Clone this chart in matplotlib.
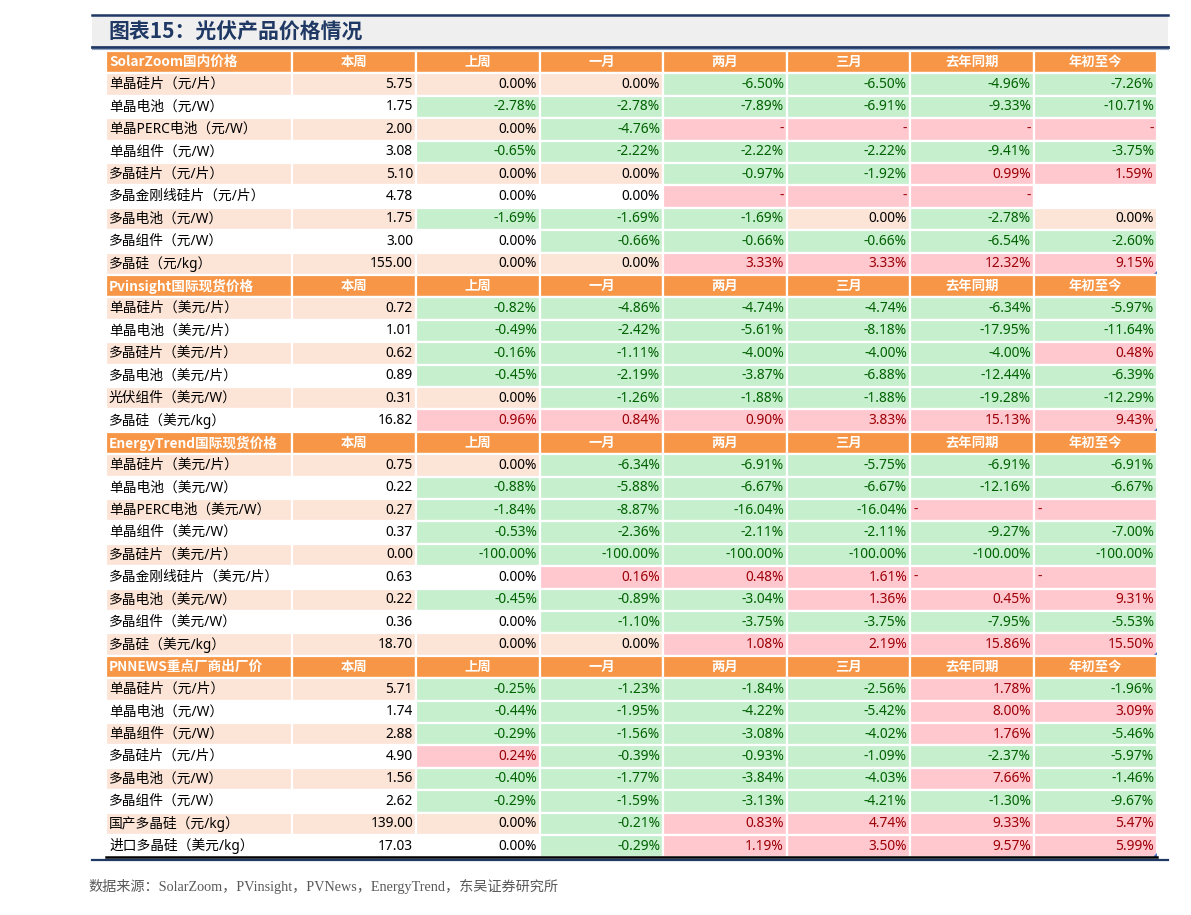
import numpy as np
import matplotlib.pyplot as plt
from matplotlib.patches import Rectangle, Polygon

plt.rcParams['font.family'] = ['Noto Sans', 'Noto Sans CJK SC', 'DejaVu Sans']

# Donnees du tableau
titre = '图表15：光伏产品价格情况'
source = '数据来源：SolarZoom，PVinsight，PVNews，EnergyTrend，东吴证券研究所'
colonnes = ['本周', '上周', '一月', '两月', '三月', '去年同期', '年初至今']

sz_titre = 'SolarZoom国内价格'
sz_noms = ['单晶硅片（元/片）', '单晶电池（元/W）', '单晶PERC电池（元/W）', '单晶组件（元/W）',
           '多晶硅片（元/片）', '多晶金刚线硅片（元/片）', '多晶电池（元/W）', '多晶组件（元/W）',
           '多晶硅（元/kg）']
sz_prix = [5.75, 1.75, 2.00, 3.08, 5.10, 4.78, 1.75, 3.00, 155.00]
sz_var = [[0.00, 0.00, -6.50, -6.50, -4.96, -7.26],
          [-2.78, -2.78, -7.89, -6.91, -9.33, -10.71],
          [0.00, -4.76, '-', '-', '-', '-'],
          [-0.65, -2.22, -2.22, -2.22, -9.41, -3.75],
          [0.00, 0.00, -0.97, -1.92, 0.99, 1.59],
          [0.00, 0.00, '-', '-', '-', ''],
          [-1.69, -1.69, -1.69, 0.00, -2.78, 0.00],
          [0.00, -0.66, -0.66, -0.66, -6.54, -2.60],
          [0.00, 0.00, 3.33, 3.33, 12.32, 9.15]]

pv_titre = 'Pvinsight国际现货价格'
pv_noms = ['单晶硅片（美元/片）', '单晶电池（美元/片）', '多晶硅片（美元/片）', '多晶电池（美元/片）',
           '光伏组件（美元/W）', '多晶硅（美元/kg）']
pv_prix = [0.72, 1.01, 0.62, 0.89, 0.31, 16.82]
pv_var = [[-0.82, -4.86, -4.74, -4.74, -6.34, -5.97],
          [-0.49, -2.42, -5.61, -8.18, -17.95, -11.64],
          [-0.16, -1.11, -4.00, -4.00, -4.00, 0.48],
          [-0.45, -2.19, -3.87, -6.88, -12.44, -6.39],
          [0.00, -1.26, -1.88, -1.88, -19.28, -12.29],
          [0.96, 0.84, 0.90, 3.83, 15.13, 9.43]]

et_titre = 'EnergyTrend国际现货价格'
et_noms = ['单晶硅片（美元/片）', '单晶电池（美元/W）', '单晶PERC电池（美元/W）', '单晶组件（美元/W）',
           '多晶硅片（美元/片）', '多晶金刚线硅片（美元/片）', '多晶电池（美元/W）', '多晶组件（美元/W）',
           '多晶硅（美元/kg）']
et_prix = [0.75, 0.22, 0.27, 0.37, 0.00, 0.63, 0.22, 0.36, 18.70]
et_var = [[0.00, -6.34, -6.91, -5.75, -6.91, -6.91],
          [-0.88, -5.88, -6.67, -6.67, -12.16, -6.67],
          [-1.84, -8.87, -16.04, -16.04, '-', '-'],
          [-0.53, -2.36, -2.11, -2.11, -9.27, -7.00],
          [-100.00, -100.00, -100.00, -100.00, -100.00, -100.00],
          [0.00, 0.16, 0.48, 1.61, '-', '-'],
          [-0.45, -0.89, -3.04, 1.36, 0.45, 9.31],
          [0.00, -1.10, -3.75, -3.75, -7.95, -5.53],
          [0.00, 0.00, 1.08, 2.19, 15.86, 15.50]]

pn_titre = 'PNNEWS重点厂商出厂价'
pn_noms = ['单晶硅片（元/片）', '单晶电池（元/W）', '单晶组件（元/W）', '多晶硅片（元/片）',
           '多晶电池（元/W）', '多晶组件（元/W）', '国产多晶硅（元/kg）', '进口多晶硅（美元/kg）']
pn_prix = [5.71, 1.74, 2.88, 4.90, 1.56, 2.62, 139.00, 17.03]
pn_var = [[-0.25, -1.23, -1.84, -2.56, 1.78, -1.96],
          [-0.44, -1.95, -4.22, -5.42, 8.00, 3.09],
          [-0.29, -1.56, -3.08, -4.02, 1.76, -5.46],
          [0.24, -0.39, -0.93, -1.09, -2.37, -5.97],
          [-0.40, -1.77, -3.84, -4.03, 7.66, -1.46],
          [-0.29, -1.59, -3.13, -4.21, -1.30, -9.67],
          [0.00, -0.21, 0.83, 4.74, 9.33, 5.47],
          [0.00, -0.29, 1.19, 3.50, 9.57, 5.99]]

sections = [(sz_titre, sz_noms, sz_prix, sz_var, 'right'),
            (pv_titre, pv_noms, pv_prix, pv_var, 'right'),
            (et_titre, et_noms, et_prix, et_var, 'left'),
            (pn_titre, pn_noms, pn_prix, pn_var, 'right')]

# Couleurs
orange = '#F79646'
peche = '#FCE4D6'
vert, vert_txt = '#C6EFCE', '#006100'
rose, rose_txt = '#FFC7CE', '#9C0006'
bleu = '#1F3864'
cjk = ['Noto Sans CJK SC', 'DejaVu Sans']

W, H = 1191, 915
fig = plt.figure(figsize=(W / 100, H / 100), dpi=100)
ax = fig.add_axes([0, 0, 1, 1])
ax.set_xlim(0, W)
ax.set_ylim(H, 0)
ax.axis('off')

# Bandeau du titre
ax.add_patch(Rectangle((92, 15), 1076, 31, color='#EFEFEF', lw=0))
ax.plot([92, 1168], [14.5, 14.5], color=bleu, lw=1.8)
ax.plot([92, 1168], [46.5, 46.5], color=bleu, lw=2.0)
ax.plot([92, 1168], [49.2, 49.2], color='#8EA3C4', lw=0.8)
ax.text(108, 32, titre, fontsize=15, fontweight='bold', style='italic',
        color=bleu, va='center', ha='left', family=cjk)

bords = [106, 292, 416, 540, 663, 787, 910, 1034, 1157]
y0, h = 51, 22.4
fs = 9.9


def case(i, j, y, fond):
    ax.add_patch(Rectangle((bords[j], y), bords[j + 1] - bords[j], h,
                           facecolor=fond, edgecolor='white', lw=1.6))


ligne = 0
for titre_s, noms, prix, var, align_tiret in sections:
    y = y0 + ligne * h
    for j in range(8):
        case(ligne, j, y, orange)
    ax.text(bords[0] + 3, y + h / 2, titre_s, color='white', fontsize=9.8,
            fontweight='bold', va='center', ha='left', family=cjk)
    for j, c in enumerate(colonnes):
        ax.text((bords[j + 1] + bords[j + 2]) / 2, y + h / 2, c, color='white',
                fontsize=9.6, fontweight='bold', va='center', ha='center',
                family=cjk)
    ligne += 1
    for k, (nom, p, vals) in enumerate(zip(noms, prix, var)):
        y = y0 + ligne * h
        fond = peche if k % 2 == 0 else 'white'
        case(ligne, 0, y, fond)
        case(ligne, 1, y, fond)
        ax.text(bords[0] + 3, y + h / 2, nom, fontsize=fs, va='center',
                ha='left', color='black')
        ax.text(bords[2] - 3, y + h / 2, f'{p:.2f}', fontsize=fs,
                va='center', ha='right', color='black')
        for m, v in enumerate(vals):
            j = m + 2
            if v == '':
                case(ligne, j, y, 'white')
                continue
            if v == '-':
                case(ligne, j, y, rose)
                if align_tiret == 'left':
                    ax.text(bords[j] + 3, y + h / 2, '-', fontsize=fs,
                            va='center', ha='left', color=rose_txt)
                else:
                    ax.text(bords[j + 1] - 3, y + h / 2, '-', fontsize=fs,
                            va='center', ha='right', color=rose_txt)
                continue
            if v < 0:
                c_fond, c_txt = vert, vert_txt
            elif v > 0:
                c_fond, c_txt = rose, rose_txt
            else:
                c_fond, c_txt = fond, 'black'
            case(ligne, j, y, c_fond)
            ax.text(bords[j + 1] - 3, y + h / 2, f'{v:.2f}%', fontsize=fs,
                    va='center', ha='right', color=c_txt)
        ligne += 1
    # petit marqueur bleu en bas a droite
    yb = y0 + ligne * h
    ax.add_patch(Polygon([[bords[-1] - 4, yb], [bords[-1], yb], [bords[-1], yb - 4]],
                         closed=True, color='#4472C4', lw=0))

yb = y0 + ligne * h
ax.plot([bords[0], bords[-1]], [yb, yb], color='black', lw=1.8)
ax.plot([92, 1168], [yb + 2.8, yb + 2.8], color=bleu, lw=1.6)

ax.text(88, 886, source, fontsize=10.2, color='#595959', va='center', ha='left',
        family=['Liberation Serif', 'Noto Sans CJK SC'])

plt.savefig('out.png', dpi=100)
